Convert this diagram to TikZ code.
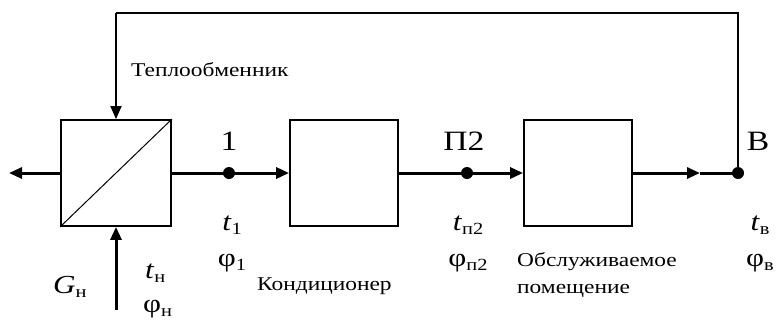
\documentclass[tikz,border=0pt]{standalone}
\usepackage{fontspec}
\setmainfont[FakeStretch=1.2]{Liberation Serif}
\usetikzlibrary{arrows.meta}
\newcommand{\lsub}[1]{\raisebox{-0.35ex}{\fontsize{17}{17}\selectfont #1}}
\tikzset{
  blockbox/.style={draw, line width=1.8pt, minimum width=108pt, minimum height=106pt, inner sep=0pt},
  flow/.style={line width=3pt},
  fback/.style={line width=1.8pt},
  tri/.style={-{Triangle[length=13pt,width=11pt]}},
  dotnode/.style={circle, fill=black, minimum size=12pt, inner sep=0pt},
  small/.style={font=\fontsize{19.5}{21}\selectfont, inner sep=0pt},
  big/.style={font=\fontsize{28}{30}\selectfont, inner sep=0pt},
  sym/.style={font=\fontsize{26}{28}\selectfont, inner sep=0pt},
}
\begin{document}
\begin{tikzpicture}[x=1pt,y=-1pt]
\useasboundingbox (0,0) rectangle (776,325);
% blocks
\node[blockbox, minimum width=110pt] (hx) at (116,173) {};
\draw[line width=1pt] (hx.south west) -- (hx.north east);
\node[blockbox] (cond) at (344,173) {};
\node[blockbox] (room) at (578,173) {};
% dots
\node[dotnode] (d1) at (229,173) {};
\node[dotnode] (dp) at (467,173) {};
\node[dotnode] (dB) at (738,173) {};
\coordinate (out) at (9,173);
\coordinate (inb) at (116,310);
\coordinate (tr) at (738,13);
\coordinate (tl) at (116,13);
\coordinate (mid) at (700,173);
% flows
\draw[flow] (hx.east) -- (d1.center);
\draw[flow,tri] (d1.center) -- (cond.west);
\draw[flow] (cond.east) -- (dp.center);
\draw[flow,tri] (dp.center) -- (room.west);
\draw[flow,tri] (room.east) -- (mid);
\draw[flow] (mid) -- (dB.center);
\draw[flow,tri] (hx.west) -- (out);
\draw[flow,tri] (inb) -- (hx.south);
\draw[fback] (dB.center) -- (tr) -- (tl);
\draw[fback,tri] (tl) -- (hx.north);
% labels
\node[small, anchor=base west] (lhx) at (131,76) {Теплообменник};
\node[big, anchor=base] (l1) at (229,150) {1};
\node[big, anchor=base] (lp) at (464,150) {П2};
\node[big, anchor=base] (lB) at (758,150) {В};
\node[sym, anchor=base] (t1) at (232,230) {\textit{t}\lsub{1}};
\node[sym, anchor=base] (f1) at (232,266) {φ\lsub{1}};
\node[sym, anchor=base] (tp) at (468,230) {\textit{t}\lsub{п2}};
\node[sym, anchor=base] (fp) at (468,266) {φ\lsub{п2}};
\node[sym, anchor=base] (tB) at (760,230) {\textit{t}\lsub{в}};
\node[sym, anchor=base] (fB) at (760,266) {φ\lsub{в}};
\node[small, anchor=base west] (lcond) at (257,290) {Кондиционер};
\node[small, anchor=base west] (lroom1) at (517,266) {Обслуживаемое};
\node[small, anchor=base west] (lroom2) at (517,293) {помещение};
\node[sym, anchor=base west] (G) at (53,293) {\textit{G}\lsub{н}};
\node[sym, anchor=base west] (tn) at (145,278) {\textit{t}\lsub{н}};
\node[sym, anchor=base west] (fn) at (143,312) {φ\lsub{н}};
\end{tikzpicture}
\end{document}
